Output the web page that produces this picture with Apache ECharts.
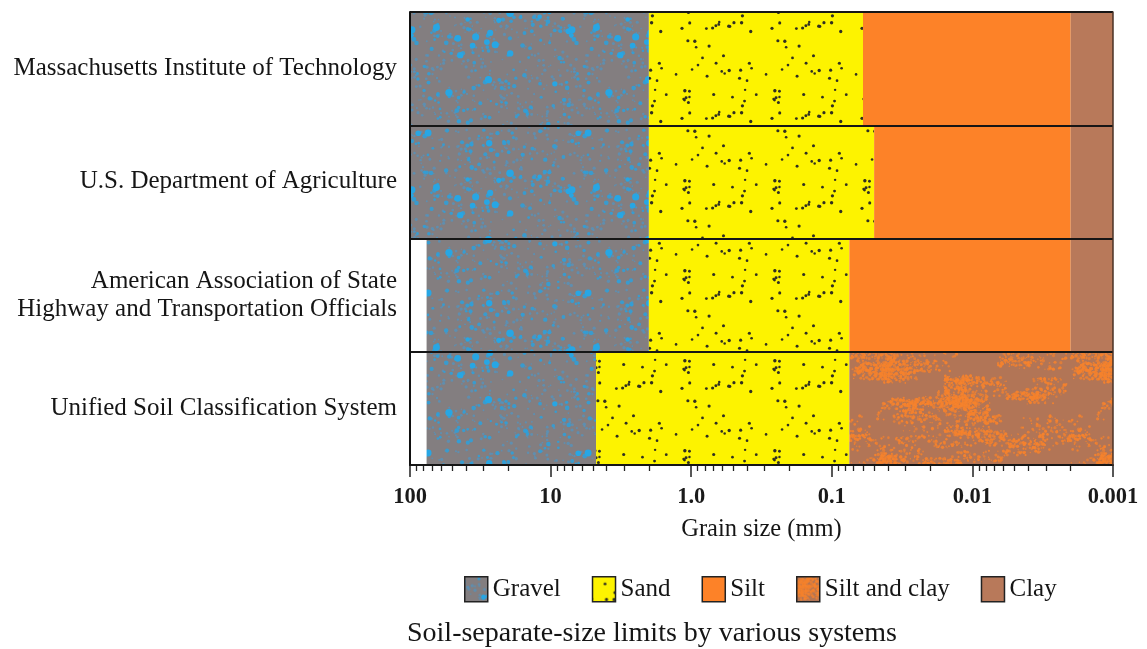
<!DOCTYPE html>
<html>
<head>
<meta charset="utf-8">
<script src="https://cdn.jsdelivr.net/npm/echarts@6/dist/echarts.min.js"></script>
<style>
html,body{margin:0;padding:0;background:#fff;}
#chart{width:1147px;height:649px;}
</style>
</head>
<body>
<div id="chart"></div>
<script>
// ---------- DATA ----------
const systems = [
  'Massachusetts Institute of Technology',
  'U.S. Department of Agriculture',
  'American Association of State\nHighway and Transportation Officials',
  'Unified Soil Classification System'
];
// grain-size ranges [from mm, to mm] per system (null = not used)
const gravel   = [[100, 2], [100, 2], [76.2, 2], [76.2, 4.75]];
const sand     = [[2, 0.06], [2, 0.05], [2, 0.075], [4.75, 0.075]];
const silt     = [[0.06, 0.002], [0.05, 0.002], [0.075, 0.002], null];
const siltClay = [null, null, null, [0.075, 0.001]];
const clay     = [[0.002, 0.001], [0.002, 0.001], [0.002, 0.001], null];

const tickValues = [100, 10, 1, 0.1, 0.01, 0.001];
const tickLabels = ['100', '10', '1.0', '0.1', '0.01', '0.001'];
const legendNames = ['Gravel', 'Sand', 'Silt', 'Silt and clay', 'Clay'];
const xAxisTitle = 'Grain size (mm)';
const caption = 'Soil-separate-size limits by various systems';

// ---------- TEXTURES (style only) ----------
function rng(seed) {
  return function () {
    seed |= 0; seed = seed + 0x6D2B79F5 | 0;
    let t = Math.imul(seed ^ seed >>> 15, 1 | seed);
    t = t + Math.imul(t ^ t >>> 7, 61 | t) ^ t;
    return ((t ^ t >>> 14) >>> 0) / 4294967296;
  };
}
function makeCanvas(w, h, base) {
  const c = document.createElement('canvas');
  c.width = w; c.height = h;
  const g = c.getContext('2d');
  g.fillStyle = base; g.fillRect(0, 0, w, h);
  return [c, g];
}
function dot(g, x, y, r, col, w, h) {
  g.fillStyle = col;
  for (const dx of [-w, 0, w]) for (const dy of [-h, 0, h]) {
    g.beginPath(); g.arc(x + dx, y + dy, r, 0, Math.PI * 2); g.fill();
  }
}
function gravelTex() {
  const W = 160, H = 160, r = rng(11);
  const [c, g] = makeCanvas(W, H, '#837e80');
  for (let i = 0; i < 420; i++) dot(g, r() * W, r() * H, 0.7 + r() * 1.0, 'rgba(80,150,195,0.7)', W, H);
  for (let i = 0; i < 170; i++) dot(g, r() * W, r() * H, 1.2 + r() * 1.2, 'rgba(45,160,220,0.85)', W, H);
  for (let i = 0; i < 22; i++) dot(g, r() * W, r() * H, 2.2 + r() * 1.6, '#27a6e4', W, H);
  return c;
}
function sandTex() {
  const W = 90, H = 90, r = rng(5);
  const [c, g] = makeCanvas(W, H, '#fdf300');
  for (let i = 0; i < 44; i++) dot(g, r() * W, r() * H, 1.2 + r() * 0.5, '#2f2f22', W, H);
  return c;
}
function siltClayTex() {
  const W = 220, H = 120, r = rng(23);
  const [c, g] = makeCanvas(W, H, '#b27556');
  for (let k = 0; k < 55; k++) {
    const cx = r() * W, cy = r() * H, sw = 10 + r() * 24, sh = 3 + r() * 6;
    const n = 30 + Math.floor(r() * 40);
    for (let i = 0; i < n; i++) {
      dot(g, cx + (r() - 0.5) * sw * 2, cy + (r() - 0.5) * sh * 2, 0.6 + r() * 1.1,
        'rgba(245,130,45,' + (0.6 + r() * 0.4).toFixed(2) + ')', W, H);
    }
  }
  return c;
}
const fills = {
  'Gravel': { image: gravelTex(), repeat: 'repeat' },
  'Sand': { image: sandTex(), repeat: 'repeat' },
  'Silt': '#fd8228',
  'Silt and clay': { image: siltClayTex(), repeat: 'repeat' },
  'Clay': '#b8795a'
};

function toData(ranges) {
  const out = [];
  ranges.forEach(function (rg, i) { if (rg) out.push([i, rg[0], rg[1]]); });
  return out;
}

function renderItem(params, api) {
  const cat = api.value(0);
  const p0 = api.coord([api.value(1), cat]);
  const p1 = api.coord([api.value(2), cat]);
  const h = api.size([1, 1])[1];
  const shape = echarts.graphic.clipRectByRect(
    { x: Math.min(p0[0], p1[0]), y: p0[1] - h / 2, width: Math.abs(p1[0] - p0[0]), height: h },
    { x: params.coordSys.x, y: params.coordSys.y, width: params.coordSys.width, height: params.coordSys.height }
  );
  return shape && { type: 'rect', shape: shape, style: { fill: api.visual('color') } };
}

const seriesRanges = [gravel, sand, silt, siltClay, clay];
const series = legendNames.map(function (name, k) {
  return {
    name: name,
    type: 'custom',
    renderItem: renderItem,
    coordinateSystem: 'cartesian2d',
    xAxisIndex: 0,
    yAxisIndex: 0,
    itemStyle: { color: fills[name] },
    encode: { x: [1, 2], y: 0 },
    data: toData(seriesRanges[k]),
    z: 2
  };
});

const SERIF = "'Liberation Serif', 'DejaVu Serif', serif";
const minorVals = [];
for (let e = -3; e < 2; e++) for (let m = 2; m <= 9; m++) minorVals.push(m * Math.pow(10, e));

const chart = echarts.init(document.getElementById('chart'), null, { renderer: 'canvas' });
chart.setOption({
  animation: false,
  backgroundColor: '#ffffff',
  textStyle: { fontFamily: SERIF },
  title: {
    text: caption, left: 407, top: 620, padding: 0,
    textStyle: { fontFamily: SERIF, fontSize: 28, fontWeight: 'normal', color: '#151515' }
  },
  legend: {
    data: legendNames, left: 459, top: 571,
    icon: 'rect', itemWidth: 23, itemHeight: 25, itemGap: 31,
    itemStyle: { borderColor: '#222', borderWidth: 1.5 },
    textStyle: { fontFamily: SERIF, fontSize: 25, color: '#151515' },
    selectedMode: false
  },
  grid: { left: 410, right: 34, top: 12, bottom: 184, containLabel: false },
  xAxis: [{
    type: 'log', logBase: 10, min: 0.001, max: 100, inverse: true, position: 'bottom',
    name: xAxisTitle, nameLocation: 'middle', nameGap: 52,
    nameTextStyle: { fontFamily: SERIF, fontSize: 24.5, color: '#151515' },
    axisLine: { show: true, onZero: false, lineStyle: { color: '#111', width: 2 } },
    axisTick: { show: true, customValues: tickValues, length: 12, lineStyle: { color: '#222', width: 1.5 } },
    axisLabel: {
      customValues: tickValues, margin: 21, fontFamily: SERIF, fontSize: 22.5, fontWeight: 'bold', color: '#1a1a1a',
      formatter: function (v) {
        const i = tickValues.findIndex(function (t) { return Math.abs(Math.log10(t) - Math.log10(v)) < 1e-6; });
        return i >= 0 ? tickLabels[i] : '';
      }
    },
    splitLine: { show: false },
    z: 5
  }, {
    type: 'log', logBase: 10, min: 0.001, max: 100, inverse: true, position: 'bottom',
    axisLine: { show: false, onZero: false },
    axisTick: { show: true, customValues: minorVals, length: 6, lineStyle: { color: '#222', width: 1.3 } },
    axisLabel: { show: false },
    splitLine: { show: false },
    z: 5
  }],
  yAxis: [{
    type: 'category', data: systems, inverse: true, position: 'left',
    axisLine: { show: true, lineStyle: { color: '#111', width: 2 } },
    axisTick: { show: false },
    axisLabel: { margin: 13, fontFamily: SERIF, fontSize: 25, color: '#151515', lineHeight: 28, align: 'right' },
    splitLine: { show: true, lineStyle: { color: '#161616', width: 2 } },
    z: 6
  }, {
    type: 'category', data: systems, inverse: true, position: 'right',
    axisLine: { show: true, lineStyle: { color: '#4a3226', width: 1.5 } },
    axisTick: { show: false }, axisLabel: { show: false }, splitLine: { show: false },
    z: 6
  }],
  series: series
});
</script>
</body>
</html>
